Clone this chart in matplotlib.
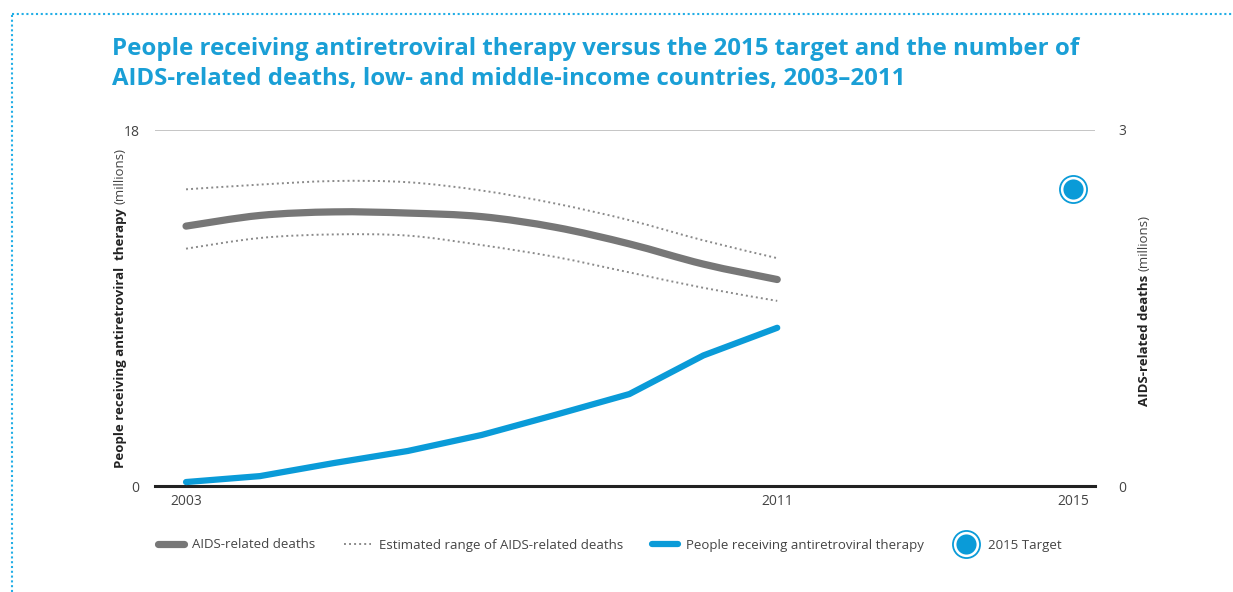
import matplotlib
matplotlib.use("Agg")
import matplotlib.pyplot as plt
from matplotlib.lines import Line2D
from matplotlib.patches import PathPatch
from matplotlib.path import Path
from matplotlib.legend_handler import HandlerTuple

# data (millions)
years = [2003, 2004, 2005, 2006, 2007, 2008, 2009, 2010, 2011]
art = [0.2, 0.5, 1.16, 1.77, 2.58, 3.6, 4.65, 6.6, 8.0]
deaths = [2.19, 2.28, 2.31, 2.30, 2.27, 2.18, 2.04, 1.87, 1.74]
deaths_high = [2.50, 2.54, 2.57, 2.56, 2.49, 2.38, 2.24, 2.07, 1.92]
deaths_low = [2.00, 2.09, 2.12, 2.11, 2.03, 1.93, 1.80, 1.67, 1.56]
target_year = [2015]
target_value = [15]
xticks = [2003, 2011, 2015]

BLUE = "#0A9BD8"
TITLE_BLUE = "#1A9FD6"
GREY = "#777777"
TXT = "#444444"

plt.rcParams['font.family'] = ['Open Sans', 'DejaVu Sans']

fig = plt.figure(figsize=(12.33, 5.92), dpi=100)
W, H = 1233, 592
ax = fig.add_axes([155 / W, 1 - 486 / H, (1095 - 155) / W, (486 - 130) / H])
ax2 = ax.twinx()

ax.set_xlim(2002.58, 2015.3)
ax.set_ylim(0, 18)
ax2.set_ylim(0, 3)


def smooth_path(xs, ys):
    # cubic bezier through the data points (Catmull-Rom tangents)
    verts = [(xs[0], ys[0])]
    codes = [Path.MOVETO]
    n = len(xs)
    for i in range(n - 1):
        x0, y0 = xs[max(i - 1, 0)], ys[max(i - 1, 0)]
        x1, y1 = xs[i], ys[i]
        x2, y2 = xs[i + 1], ys[i + 1]
        x3, y3 = xs[min(i + 2, n - 1)], ys[min(i + 2, n - 1)]
        verts += [(x1 + (x2 - x0) / 6, y1 + (y2 - y0) / 6),
                  (x2 - (x3 - x1) / 6, y2 - (y3 - y1) / 6),
                  (x2, y2)]
        codes += [Path.CURVE4] * 3
    return Path(verts, codes)


# deaths on right axis
ax2.add_patch(PathPatch(smooth_path(years, deaths), fill=False, ec=GREY,
                        lw=5.2, capstyle='round'))
for band in (deaths_high, deaths_low):
    ax2.add_patch(PathPatch(smooth_path(years, band), fill=False, ec="#8a8a8a",
                            lw=1.4, ls=(0, (1, 1.6))))
l_dead = Line2D([], [], color=GREY, lw=5.2, solid_capstyle='round')
l_rng = Line2D([], [], color="#8a8a8a", lw=1.4, ls=(0, (1, 1.6)))

# ART on left axis
l_art, = ax.plot(years, art, color=BLUE, lw=4.5, solid_capstyle='round',
                 solid_joinstyle='round')
m_out, = ax.plot(target_year, target_value, 'o', ms=19.5, mfc='white', mec=BLUE,
                 mew=1.3, clip_on=False, zorder=5)
m_in, = ax.plot(target_year, target_value, 'o', ms=14.5, mfc=BLUE, mec=BLUE,
                mew=0, clip_on=False, zorder=6)

for a in (ax, ax2):
    for s in a.spines.values():
        s.set_visible(False)
ax.axhline(18, color="#bbbbbb", lw=1.2, zorder=0)
ax.axhline(0, color="#222222", lw=2.2, zorder=1, clip_on=False)

ax.set_xticks(xticks)
ax.set_yticks([0, 18])
ax2.set_yticks([0, 3])
ax.tick_params(axis='x', length=0, pad=6, labelsize=10, labelcolor=TXT)
ax.tick_params(axis='y', length=0, pad=11, labelsize=10, labelcolor=TXT)
ax2.tick_params(axis='y', length=0, pad=17, labelsize=10, labelcolor=TXT)

# title
fig.text(112 / W, 1 - 37 / H,
         "People receiving antiretroviral therapy versus the 2015 target and the number of\n"
         "AIDS-related deaths, low- and middle-income countries, 2003\u20132011",
         color=TITLE_BLUE, fontsize=17.3, fontweight='bold', va='top', ha='left',
         linespacing=1.36)

# rotated axis labels: bold part + normal "(millions)"
renderer = fig.canvas.get_renderer()


def vlabel(x, y0, bold, normal):
    t1 = fig.text(x, y0, bold, rotation=90, rotation_mode='anchor', ha='left',
                  va='baseline', fontsize=9.5, fontweight='bold', color="#222222")
    bb = t1.get_window_extent(renderer)
    y1 = y0 + (bb.height + 4) / H
    fig.text(x, y1, normal, rotation=90, rotation_mode='anchor', ha='left',
             va='baseline', fontsize=9.5, color=TXT)


vlabel(124 / W, 1 - 468 / H, "People receiving antiretroviral  therapy", "(millions)")
vlabel(1148 / W, 1 - 406 / H, "AIDS-related deaths", "(millions)")

# legend
handles = [l_dead, l_rng, l_art, (m_out, m_in)]
labels = ["AIDS-related deaths", "Estimated range of AIDS-related deaths",
          "People receiving antiretroviral therapy", "2015 Target"]
fig.legend(handles, labels, ncol=4, loc='center left',
           bbox_to_anchor=(146 / W, 1 - 545 / H), frameon=False,
           fontsize=9.5, handlelength=2.0, handletextpad=0.6, columnspacing=2.2,
           labelcolor=TXT, handler_map={tuple: HandlerTuple(ndivide=1, pad=0)})

# dotted frame
fig.add_artist(Line2D([12 / W, 1], [1 - 14 / H, 1 - 14 / H], transform=fig.transFigure,
                      color="#22aee6", lw=1.5, ls=(0, (1, 1.3))))
fig.add_artist(Line2D([12 / W, 12 / W], [0, 1 - 14 / H], transform=fig.transFigure,
                      color="#22aee6", lw=1.5, ls=(0, (1, 1.3))))

fig.savefig("out.png", dpi=100)
